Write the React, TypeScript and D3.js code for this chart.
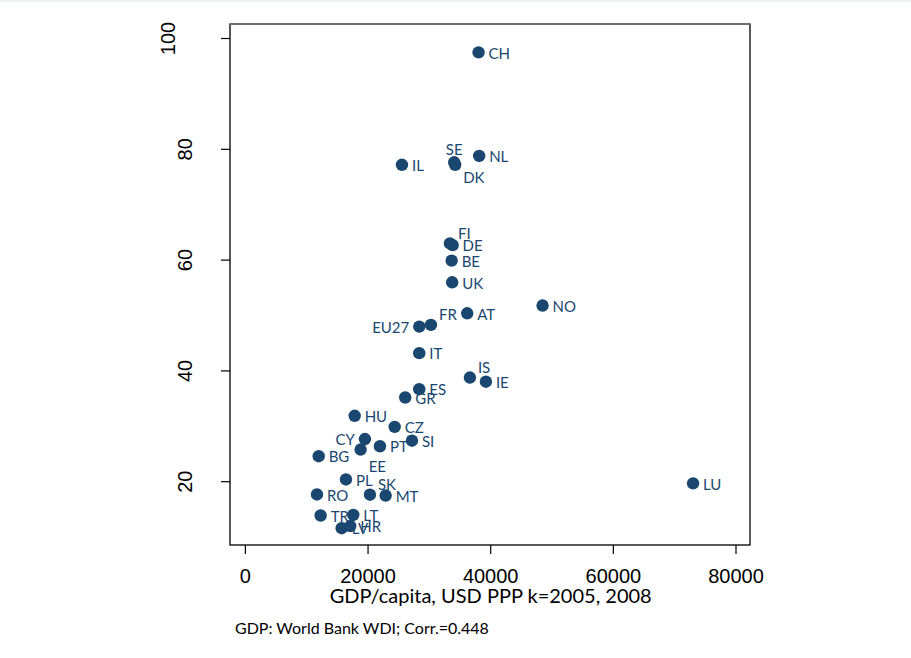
import React from "react";
import * as d3 from "d3";

const countries = ["CH","NL","SE","DK","IL","FI","DE","BE","UK","NO","AT","FR","EU27","IT","IS","IE","ES","GR","HU","CZ","CY","SI","PT","EE","BG","PL","LU","RO","SK","MT","TR","LV","LT","HR"];
const gdp = [38020,38120,34050,34210,25530,33350,33790,33630,33720,48460,36170,30250,28350,28350,36610,39220,28350,26060,17820,24340,19490,27160,21940,18790,11950,16400,73000,11670,20310,22870,12270,15700,17590,17100];
const yVals = [97.5,78.8,77.65,77.2,77.2,63.0,62.7,59.9,56.0,51.8,50.4,48.3,48.0,43.2,38.8,38.05,36.7,35.2,31.9,29.9,27.7,27.4,26.4,25.8,24.6,20.4,19.7,17.7,17.65,17.5,13.9,11.6,14.0,12.0];
// clock position of each marker label
const labelPos = [3,3,12,4,3,1,3,3,3,3,3,1,9,3,1,3,3,3,3,3,9,3,3,5,3,3,3,3,1,3,3,3,3,3];

const xTicks = [0,20000,40000,60000,80000];
const yTicks = [20,40,60,80,100];
const xTitle = "GDP/capita, USD PPP k=2005, 2008";
const note = "GDP: World Bank WDI; Corr.=0.448";

const navy = "#1a476f";
const labelFont = "Lato, 'Open Sans', sans-serif";
const tickFont = "'Liberation Sans', Arial, sans-serif";

function offset(pos: number) {
  switch (pos) {
    case 12: return { dx: 0, dy: -13, anchor: "middle" };
    case 1: return { dx: 8, dy: -10, anchor: "start" };
    case 4: return { dx: 8, dy: 13, anchor: "start" };
    case 5: return { dx: 8, dy: 17, anchor: "start" };
    case 9: return { dx: -10, dy: 1, anchor: "end" };
    default: return { dx: 10, dy: 1, anchor: "start" };
  }
}

export default function App() {
  const W = 911, H = 658;
  const frame = { left: 230, right: 750, top: 24, bottom: 545 };
  const x = d3.scaleLinear().domain([0, 80000]).range([245.4, 736]);
  const y = d3.scaleLinear().domain([20, 100]).range([481.7, 38.5]);
  const pts = countries.map((c, i) => ({ c, x: x(gdp[i]), y: y(yVals[i]), o: offset(labelPos[i]) }));

  return (
    <svg width={W} height={H} style={{ position: "absolute", left: 0, top: 0, background: "#fff" }}>
      <rect x={0} y={0} width={W} height={2} fill="#eef1f1" />
      <rect x={frame.left} y={frame.top} width={frame.right - frame.left} height={frame.bottom - frame.top}
        fill="#fff" stroke="#000" strokeWidth={1.3} />
      <line x1={frame.left} x2={frame.right} y1={frame.top} y2={frame.top} stroke="#6e6e6e" strokeWidth={2} />
      {yTicks.map(t => (
        <g key={"y" + t}>
          <line x1={frame.left - 9} x2={frame.left} y1={y(t)} y2={y(t)} stroke="#000" strokeWidth={1.2} />
          <text transform={`translate(${192 - (String(t).length - 2) * 17},${y(t)}) rotate(-90)`}
            textAnchor="middle" fontFamily={tickFont} fontSize={20} fill="#000">{t}</text>
        </g>
      ))}
      {xTicks.map(t => (
        <g key={"x" + t}>
          <line x1={x(t)} x2={x(t)} y1={frame.bottom} y2={frame.bottom + 9} stroke="#000" strokeWidth={1.2} />
          <text x={x(t)} y={583} textAnchor="middle" fontFamily={tickFont} fontSize={20} fill="#000">{t}</text>
        </g>
      ))}
      <text x={x(40000)} y={603} textAnchor="middle" fontFamily={labelFont} fontSize={20} fill="#000">{xTitle}</text>
      <text x={235} y={634} fontFamily={labelFont} fontSize={16} fill="#000">{note}</text>
      {pts.map(p => (
        <text key={"l" + p.c} x={p.x + p.o.dx} y={p.y + p.o.dy} dy="0.35em" textAnchor={p.o.anchor}
          fontFamily={labelFont} fontSize={15} fill={navy}>{p.c}</text>
      ))}
      {pts.map(p => (
        <circle key={"c" + p.c} cx={p.x} cy={p.y} r={6.2} fill={navy} />
      ))}
    </svg>
  );
}
